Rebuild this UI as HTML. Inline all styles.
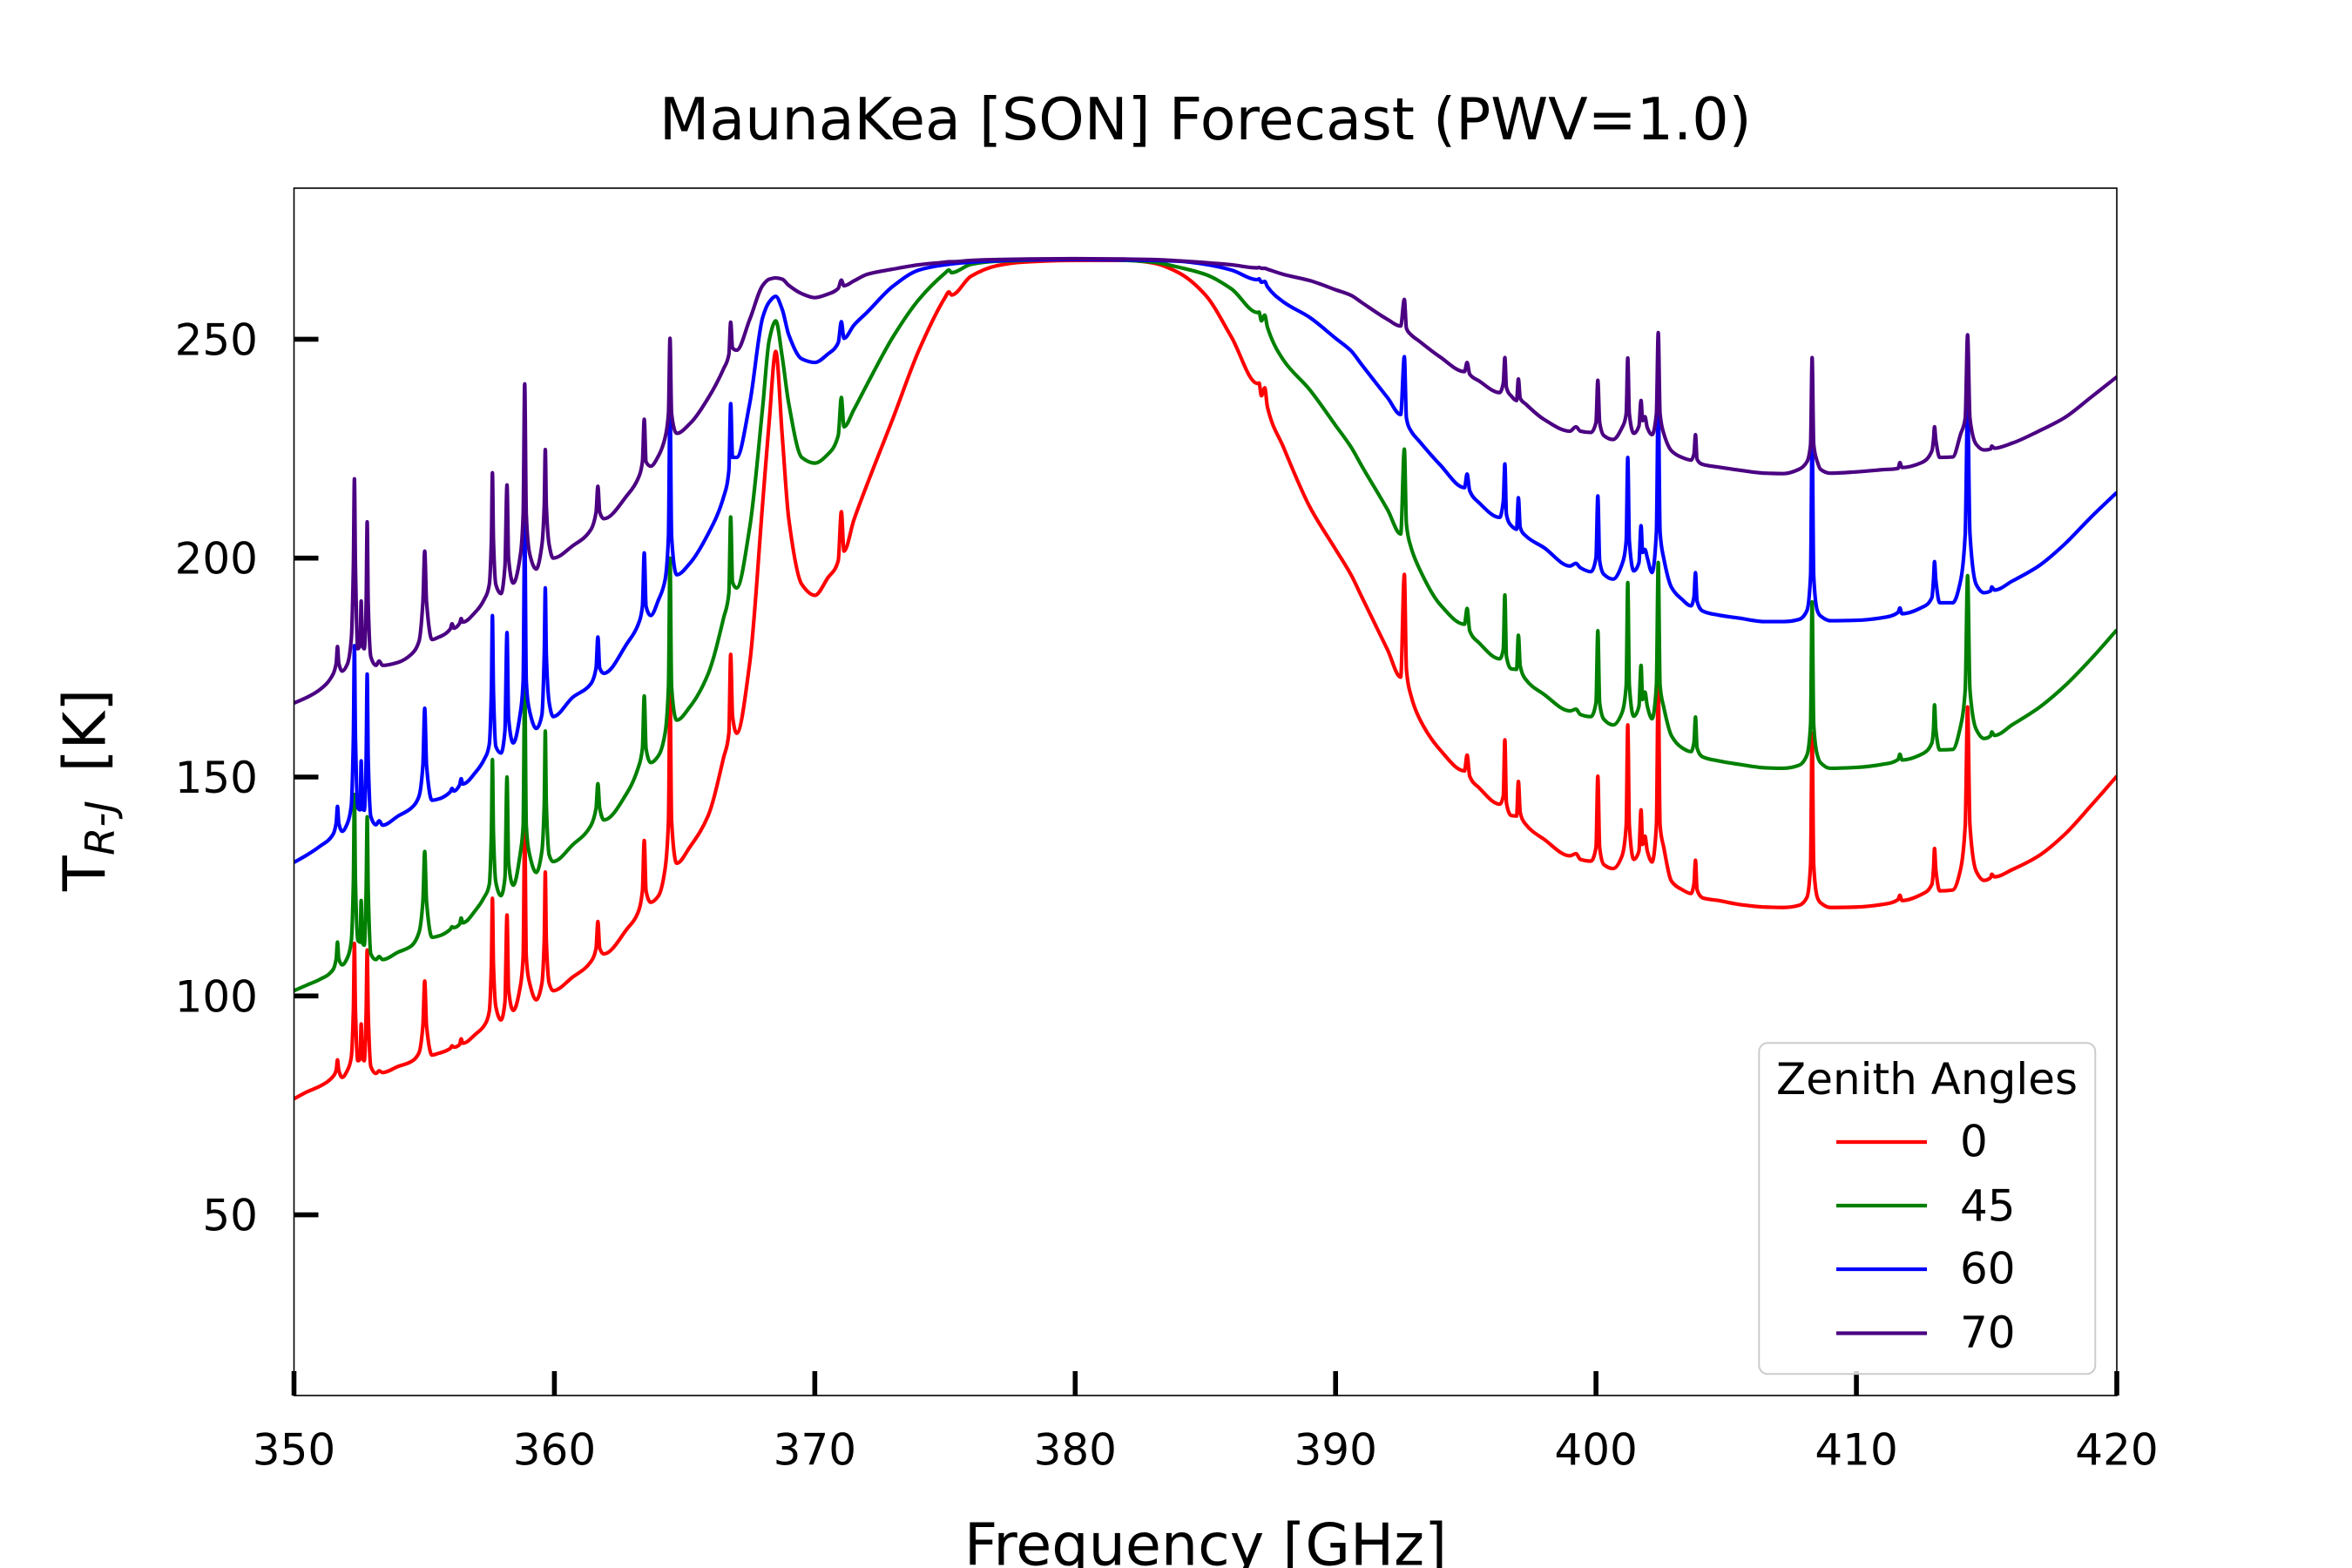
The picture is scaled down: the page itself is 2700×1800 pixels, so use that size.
<!DOCTYPE html>
<html lang="en">
<head>
<meta charset="utf-8">
<title>MaunaKea [SON] Forecast (PWV=1.0)</title>
<style>
html,body{margin:0;padding:0;background:#fff;width:2700px;height:1800px;overflow:hidden}
svg{display:block;font-family:"DejaVu Sans","Liberation Sans",sans-serif}
</style>
</head>
<body>
<svg id="chart" xmlns="http://www.w3.org/2000/svg" width="2700" height="1800" viewBox="0 0 2700 1800">
  <defs><clipPath id="plot-clip"><rect x="337.5" y="216" width="2092.5" height="1386"/></clipPath></defs>
  <rect x="0" y="0" width="2700" height="1800" fill="#ffffff"/>
  <text x="1383.75" y="160" font-size="66.67" text-anchor="middle" fill="#000">MaunaKea [SON] Forecast (PWV=1.0)</text>
  <g id="series-layer" clip-path="url(#plot-clip)"></g>
  <g id="tick-layer"></g>
  <rect x="337.5" y="216" width="2092.5" height="1386" fill="none" stroke="#000" stroke-width="1.6"/>
  <text x="1384" y="1796.7" font-size="66.67" text-anchor="middle" fill="#000">Frequency [GHz]</text>
  <g transform="translate(120.7,1023) rotate(-90)">
    <text x="0" y="0" font-size="66.67" fill="#000">T<tspan x="41" y="10.3" font-size="46.7" font-style="italic">R-J</tspan><tspan x="136.6" y="0">[K]</tspan></text>
  </g>
  <g>
    <rect x="2019.3" y="1197.3" width="386" height="380" rx="10" ry="10" fill="#ffffff" fill-opacity="0.8" stroke="#cccccc" stroke-width="2"/>
    <text x="2212" y="1255.8" font-size="50" text-anchor="middle" fill="#000">Zenith Angles</text>
    <line x1="2108" x2="2212" y1="1311" y2="1311" stroke="#ff0000" stroke-width="4.17"/>
    <text x="2250" y="1327.6" font-size="50" fill="#000">0</text>
    <line x1="2108" x2="2212" y1="1384" y2="1384" stroke="#008000" stroke-width="4.17"/>
    <text x="2250" y="1401.5" font-size="50" fill="#000">45</text>
    <line x1="2108" x2="2212" y1="1457" y2="1457" stroke="#0000ff" stroke-width="4.17"/>
    <text x="2250" y="1473.6" font-size="50" fill="#000">60</text>
    <line x1="2108" x2="2212" y1="1530.5" y2="1530.5" stroke="#4b0082" stroke-width="4.17"/>
    <text x="2250" y="1547" font-size="50" fill="#000">70</text>
  </g>
</svg>
<script>
// Tick labels
const xTicks = [350, 360, 370, 380, 390, 400, 410, 420];
const yTicks = [50, 100, 150, 200, 250];

// Frequency samples [GHz]; each row lines up with the same row of every series
const frequencies = [
  350,350.5,351,351.5,351.62,351.67,351.72,351.85,
  352.05,352.2,352.28,352.32,352.36,352.45,352.54,352.58,352.62,352.7,352.77,352.81,352.85,352.95,353.15,353.27,353.4,
  354,354.5,354.8,354.95,355.02,355.09,355.3,355.5,
  356,356.07,356.14,356.36,356.42,356.48,357,357.3,
  357.5,357.58,357.62,357.66,357.75,357.95,358.1,358.18,358.24,358.42,
  358.7,358.8,358.86,358.92,359.05,359.3,359.52,359.61,359.65,359.69,359.8,359.95,
  360.7,361.4,361.6,361.67,361.74,361.9,362.8,363.2,363.38,363.45,363.52,363.7,364,
  364.25,364.38,364.44,364.5,364.7,365.2,365.9,366.5,366.7,366.77,366.84,367,
  367.5,368,368.25,368.5,368.75,369,369.5,370,370.5,370.9,371.02,371.12,
  371.5,372,373,374,375,375.15,375.25,376,377,378,380,382,383,384,385,386,
  387,387.06,387.15,387.28,387.38,388,389,390,390.6,391,392,392.5,392.64,392.72,392.9,393.2,394,
  394.95,395.05,395.15,395.5,396.3,396.44,396.5,396.56,396.75,396.95,397.02,397.09,397.3,398,
  399,399.23,399.4,399.8,400,400.07,400.14,400.3,400.66,401,401.16,401.22,401.28,401.45,
  401.65,401.73,401.79,401.88,401.97,402.15,402.32,402.39,402.46,402.6,402.9,403.3,
  403.65,403.76,403.82,403.88,404.1,404.7,405.5,406.5,407.2,407.8,408.1,408.24,408.3,408.36,408.5,408.62,409,410,411,
  411.6,411.67,411.75,412.5,412.9,412.96,413,413.05,413.2,413.7,414,414.18,414.27,414.36,414.6,414.9,415.15,415.2,415.3,416,417,418,419,420
];

// Zenith angle 0 deg: T_RJ [K]
const zenith0 = [
  76.5,78.1,79.4,81.6,83,85.4,83,81.4,
  83,86,96.6,112,96.6,85.2,85.6,93.6,86,85.2,96,110.5,96,83.9,82.3,82.9,82.5,
  83.9,85,87,93.2,103.4,93.2,86.5,86.8,
  88,88.6,88.3,88.9,90.2,89.2,91.4,93.2,
  96.5,107,122.3,107,97.6,94.5,98.5,118.5,101.5,96.7,
  102.5,109,139,109,102.9,99.1,102.9,112.7,128.3,112.7,102.9,101.2,
  104.3,107.8,110.9,117,110.9,109.6,115.4,118.9,124,135.5,124,121.4,122.9,
  129,140,170,140,130.3,134,141.1,154.5,160,178,164,160,
  176,212.7,231.3,247.2,227.9,209,194,191.5,195.5,199.4,210.6,201.6,
  208.7,216.7,231.9,247.5,259.5,260.8,260.1,264.4,266.8,267.6,268,268,267.4,265.1,260.1,250.5,
  239.9,240,237.1,238.9,234.6,225.3,211.8,202,196.1,191.2,179,172.8,196.3,174.6,168.5,163.6,156.3,
  151.4,155,150.2,147.6,143.8,145.7,158.5,144.1,141.2,141.1,149,141.9,139.2,135.8,
  132,132.5,131.2,130.8,133.9,150.2,133.9,130,129.1,132,139,161.9,139,131.2,
  133.1,142.5,134.6,136.5,133.1,130.6,139,172,139,134,126.2,124.3,
  123.4,125.5,131,124.3,122.4,121.8,120.9,120.3,120.2,120.7,122.5,130,160,130,122.5,121.3,120.2,120.3,120.9,
  122,123,121.8,123.2,125.5,128.9,133.7,128.9,124,124.2,128.9,139,166,139,128.5,126.4,127,127.8,127.2,128.9,132,136.9,143.4,150.2
];

// Zenith angle 45 deg: T_RJ [K]
const zenith45 = [
  101.2,102.5,103.8,106,108.5,112.3,108.5,107.1,
  108.7,112.5,126,146,126,112.7,112.3,121.8,112.3,111.6,124,140.9,124,109.6,108.3,109,108.3,
  110,111.4,114.5,121.6,133,121.6,113.4,113.6,
  115.2,115.8,115.6,116.4,117.8,116.7,119.8,122.5,
  125.5,137,154,137,126,122.9,126.9,150,130.5,125.3,
  133,139,172,139,132.2,128.2,133.1,143.8,160.5,143.8,132.2,130.7,
  134.5,138.9,142.9,148.5,142.9,140.2,146.5,151.8,156.5,168.5,156.5,153.3,154.9,
  160,170.6,200,170.6,163,166,173.5,186.4,192,209.4,194.5,193.2,
  207,234.6,249.8,254.2,245.9,235.3,223,221.7,223.7,228,236.7,230,
  233.9,239.6,250.5,259.1,265.1,265.8,265.2,267.1,267.8,268,268.3,268,267.6,266.4,264.8,261.5,
  256.1,256.2,254.2,255.5,252.8,245.2,238.5,230.3,225.3,221.1,211,205.5,224.9,207.7,202.4,197.8,189.5,
  184.9,188.5,183.4,180.7,177,179.2,191.6,177.6,174.7,174.6,182.4,175.4,172.3,168.9,
  165.1,165.5,164.3,163.8,167,183.4,167,163.2,161.9,164.7,171,194.4,171,163.9,
  166.2,175.5,167.7,169.4,166.2,163.3,171,199,171,166,159.4,156.7,
  155.8,157.8,163.7,156.7,154.6,153.7,152.9,152.1,152,152.7,155,162,190,162,155,153.3,152,152.2,152.9,
  154,155.2,153.9,155.2,157.8,160.9,166.5,160.9,156.2,156.3,161.6,170,196,170,160.9,158.8,159.4,160.3,159.5,162,165.8,170.8,176.9,183.6
];

// Zenith angle 60 deg: T_RJ [K]
const zenith60 = [
  130.5,132.2,134.2,136.9,139.5,143.3,139.5,137.6,
  139.4,143.5,159,180,159,143,142.5,153.7,143,142.4,154,173.5,154,141,139.1,140,139,
  141.1,142.9,145.6,152.7,165.7,152.7,144.7,144.9,
  146.6,147.4,146.8,148.2,149.6,148.4,151.3,154,
  157.5,169.5,186.9,169.5,157,155.5,160.5,183,163.5,157.8,
  165,172,208,172,165,161.1,164.2,178,193.2,178,167,163.8,
  168.2,171.3,174.9,182,174.9,173.7,180.6,184.6,189,201.2,189,186.9,190.5,
  195,205,236,205,196.2,198.8,205.5,214,220,235.3,223,223,
  235.3,255,258.5,259.8,256.8,251,245.5,244.7,246.6,249.2,254,250.2,
  253.2,256.1,262.1,265.8,267,267.1,267.2,267.6,267.9,268.1,268.2,268.1,268,267.8,267.1,265.8,
  263.6,263.8,263,263.2,262,258.5,255,250.2,247.3,244.2,236.6,232.8,246,232,229,226.8,221.4,
  216.1,219.2,215.4,212.7,209.3,213,221.5,210,207.4,206.6,213.8,207,205.1,202.4,
  198.2,198.8,197.8,196.9,200.1,214.2,199.4,196.3,195.2,198.6,204,223,204,197.1,
  199,207.4,201.3,202,200.1,196.7,206,237,206,200,193.3,190.6,
  189.1,191,196.7,190.2,187.9,187,186.3,185.5,185.5,186,188,196,228,196,188,186.8,185.7,185.8,186.4,
  187.6,188.6,187.3,188.7,191,195,199.2,195,189.8,189.8,194.8,205.6,235,205.6,194,192.1,192.5,193.4,192.7,194.8,198.2,203.2,209.3,215
];

// Zenith angle 70 deg: T_RJ [K]
const zenith70 = [
  166.9,168.2,170,173.5,176,179.8,176,174.2,
  175.8,181.5,198,218.1,198,179.3,180.2,190.2,180.2,179.3,189.6,208.3,189.6,177.5,175.5,176.5,175.5,
  176.2,178,181,190,201.6,190,181.4,181.8,
  183.8,185,184,185.1,186.2,185.4,187.9,190.5,
  194,204,219.5,204,194,191.9,198,216.7,200,194.3,
  201,210,239.8,210,201,197.5,203,212,224.8,212,203,200,
  202.8,206.5,210.5,216.4,210.5,209,214.4,218,222,231.7,222,221,223.4,
  227.5,233,250.2,233,228.5,230.7,236.5,243.3,246.5,253.9,248,247.5,
  254.5,262.3,263.7,264,263.7,262.3,260.4,259.5,260.3,261.6,263.5,262.2,
  263.3,264.8,266,267,267.6,267.7,267.7,268,268.2,268.3,268.4,268.3,268.2,267.9,267.5,267,
  266.3,266.4,266.2,266.2,266,264.8,263.4,261.3,260,258.4,254.5,253,259.1,252.5,251,249.6,246,
  242.6,244.7,242,240.5,237.8,240,245.8,239,237,236,240.9,236.5,235.2,231.7,
  229,230,229,228.7,231,240.6,231,228,227.1,229.8,233,245.7,233,228.5,
  230.2,236,231.4,232.3,229.8,228.2,233,251.5,233,228.5,224.5,223,
  222.4,223.7,228.2,222.6,221.4,220.8,220.1,219.4,219.3,220.3,222,226,245.8,226,222,220.3,219.4,219.7,220.2,
  220.5,221.8,220.7,221.8,224.5,227,230,227,223,223.1,228.3,232,251,232,226,224.7,224.9,225.6,225.1,226.3,229,232.1,236.7,241.4
];

// Axis functions
function xAxis(f) { return 337.5 + (f - 350) * (2092.5 / 70); }
function yAxis(t) { return 1394.6 - (t - 50) * 5.026; }

const SVG_NS = 'http://www.w3.org/2000/svg';
const seriesLayer = document.getElementById('series-layer');
const tickLayer = document.getElementById('tick-layer');

// Smooth path through the samples without overshooting them
function monotonePath(xs, ys) {
  const n = xs.length;
  const slopes = [];
  for (let i = 0; i < n - 1; i++) {
    slopes.push((ys[i + 1] - ys[i]) / (xs[i + 1] - xs[i]));
  }
  const tangents = [slopes[0]];
  for (let i = 1; i < n - 1; i++) {
    if (slopes[i - 1] * slopes[i] <= 0) {
      tangents.push(0);
    } else {
      const h0 = xs[i] - xs[i - 1];
      const h1 = xs[i + 1] - xs[i];
      const w0 = 2 * h1 + h0;
      const w1 = h1 + 2 * h0;
      tangents.push((w0 + w1) / (w0 / slopes[i - 1] + w1 / slopes[i]));
    }
  }
  tangents.push(slopes[n - 2]);
  let d = 'M' + xs[0].toFixed(2) + ' ' + ys[0].toFixed(2);
  for (let i = 0; i < n - 1; i++) {
    const h = (xs[i + 1] - xs[i]) / 3;
    d += 'C' + (xs[i] + h).toFixed(2) + ' ' + (ys[i] + tangents[i] * h).toFixed(2) + ' ' +
         (xs[i + 1] - h).toFixed(2) + ' ' + (ys[i + 1] - tangents[i + 1] * h).toFixed(2) + ' ' +
         xs[i + 1].toFixed(2) + ' ' + ys[i + 1].toFixed(2);
  }
  return d;
}

function drawSeries(values, colour, name) {
  const xs = frequencies.map(xAxis);
  const ys = values.map(yAxis);
  const line = document.createElementNS(SVG_NS, 'path');
  line.setAttribute('d', monotonePath(xs, ys));
  line.setAttribute('fill', 'none');
  line.setAttribute('stroke', colour);
  line.setAttribute('stroke-width', '4.17');
  line.setAttribute('stroke-linejoin', 'round');
  line.setAttribute('stroke-linecap', 'butt');
  
  
  seriesLayer.appendChild(line);
}

drawSeries(zenith0, '#ff0000', 'series-zenith-0');
drawSeries(zenith45, '#008000', 'series-zenith-45');
drawSeries(zenith60, '#0000ff', 'series-zenith-60');
drawSeries(zenith70, '#4b0082', 'series-zenith-70');

xTicks.forEach(function (v) {
  const x = xAxis(v);
  const tick = document.createElementNS(SVG_NS, 'line');
  tick.setAttribute('x1', x);
  tick.setAttribute('x2', x);
  tick.setAttribute('y1', 1574);
  tick.setAttribute('y2', 1602);
  tick.setAttribute('stroke', '#000');
  tick.setAttribute('stroke-width', '5.6');
  
  
  tickLayer.appendChild(tick);
  const label = document.createElementNS(SVG_NS, 'text');
  label.setAttribute('x', x);
  label.setAttribute('y', 1681.7);
  label.setAttribute('font-size', '50');
  label.setAttribute('text-anchor', 'middle');
  label.setAttribute('fill', '#000');
  
  
  label.textContent = String(v);
  tickLayer.appendChild(label);
});

yTicks.forEach(function (v) {
  const y = yAxis(v);
  const tick = document.createElementNS(SVG_NS, 'line');
  tick.setAttribute('x1', 337.5);
  tick.setAttribute('x2', 365.5);
  tick.setAttribute('y1', y);
  tick.setAttribute('y2', y);
  tick.setAttribute('stroke', '#000');
  tick.setAttribute('stroke-width', '5.6');
  
  
  tickLayer.appendChild(tick);
  const label = document.createElementNS(SVG_NS, 'text');
  label.setAttribute('x', 296);
  label.setAttribute('y', y + 18);
  label.setAttribute('font-size', '50');
  label.setAttribute('text-anchor', 'end');
  label.setAttribute('fill', '#000');
  
  
  label.textContent = String(v);
  tickLayer.appendChild(label);
});
</script>
</body>
</html>
